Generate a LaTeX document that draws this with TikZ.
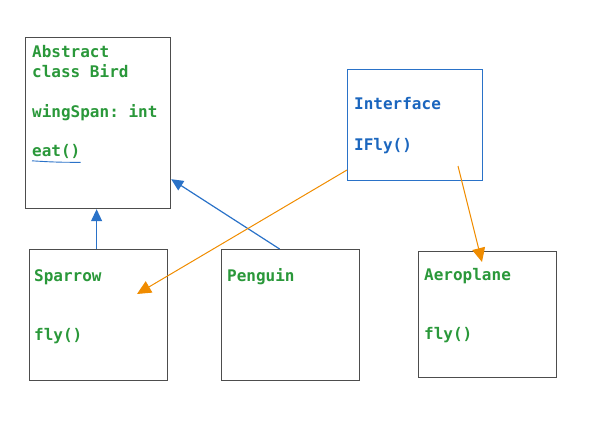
\documentclass[tikz,border=0pt]{standalone}
\usepackage{fontspec}
\setmonofont{DejaVu Sans Mono}
\usetikzlibrary{arrows.meta}

\definecolor{boxgray}{HTML}{4D4D4D}
\definecolor{txtgreen}{HTML}{2A983A}
\definecolor{txtblue}{HTML}{1B66BE}
\definecolor{lineblue}{HTML}{2A72C8}
\definecolor{lineorange}{HTML}{F08C00}

\tikzset{
    box/.style={draw=boxgray, line width=1.2pt, rectangle, anchor=north west, inner sep=0pt},
    ibox/.style={box, draw=lineblue, line width=1pt},
    txt/.style={anchor=base west, inner sep=0pt, text=txtgreen, font=\ttfamily\bfseries\fontsize{16}{20}\selectfont},
    itxt/.style={txt, text=txtblue},
    inherit/.style={draw=lineblue, line width=1.2pt, -{Triangle[length=12pt, width=11pt]}},
    realize/.style={draw=lineorange, line width=1pt, -{Triangle[length=14pt, width=13pt]}}
}

\begin{document}
\begin{tikzpicture}[x=1pt, y=-1pt]
    \useasboundingbox (0,0) rectangle (600,425);

    % boxes
    \node[box, minimum width=145pt, minimum height=171pt] (bird) at (25,37) {};
    \node[ibox, minimum width=135pt, minimum height=111pt] (iface) at (347,69) {};
    \node[box, minimum width=138pt, minimum height=131pt] (sparrow) at (29,249) {};
    \node[box, minimum width=138pt, minimum height=131pt] (penguin) at (221,249) {};
    \node[box, minimum width=138pt, minimum height=126pt] (aero) at (418,251) {};

    % texts
    \node[txt] (birdname) at (32,58) {Abstract};
    \node[txt] (birdclass) at (32,78) {class Bird};
    \node[txt] (birdwing) at (32,118) {wingSpan: int};
    \node[txt] (birdeat) at (32,157) {eat()};
    \node[itxt] (ifacename) at (354,110) {Interface};
    \node[itxt] (ifacefly) at (354,150) {IFly()};
    \node[txt] (sparrowname) at (34,281) {Sparrow};
    \node[txt] (sparrowfly) at (34,340) {fly()};
    \node[txt] (penguinname) at (227,281) {Penguin};
    \node[txt] (aeroname) at (424,280) {Aeroplane};
    \node[txt] (aerofly) at (424,339) {fly()};

    \draw[lineblue, line width=0.9pt] ([yshift=-1.5pt]birdeat.south west) to[bend right=2] ([yshift=-3pt]birdeat.south east);

    % connectors
    \draw[inherit] ([xshift=-2pt]sparrow.north) -- ([xshift=-1.5pt]bird.south);
    \draw[inherit] ([xshift=-11pt]penguin.north) -- ([yshift=30pt]bird.south east);
    \draw[realize] ([yshift=11pt]iface.south west) -- ([shift={(108,45)}]sparrow.north west);
    \draw[realize] ([shift={(-25,-15)}]iface.south east) -- ([shift={(64,11)}]aero.north west);
\end{tikzpicture}
\end{document}
